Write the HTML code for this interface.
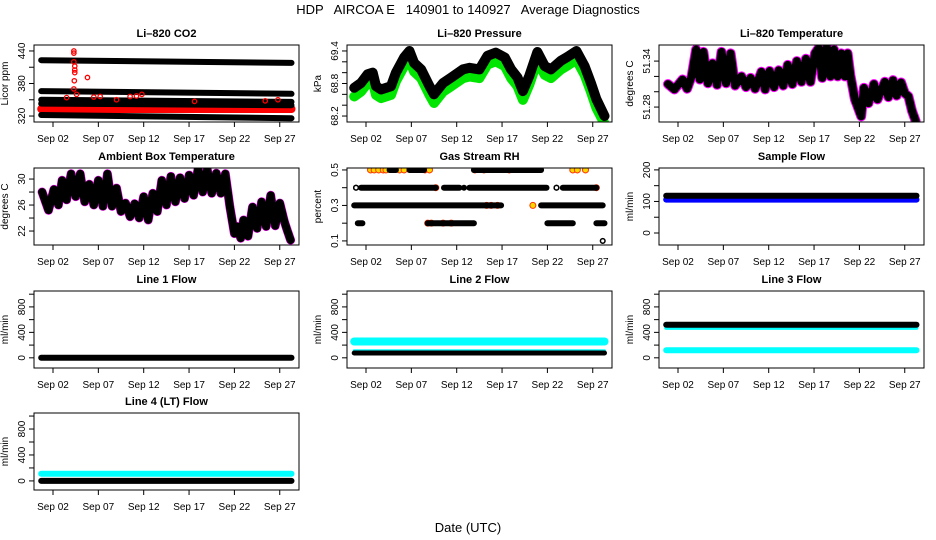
<!DOCTYPE html>
<html><head><meta charset="utf-8">
<style>
html,body{margin:0;padding:0;background:#fff;}
svg{display:block;font-family:"Liberation Sans",Arial,sans-serif;}
</style></head>
<body>
<svg id="chart" width="936" height="540" viewBox="0 0 936 540" xmlns="http://www.w3.org/2000/svg">
<defs id="defs"></defs>
<text x="468" y="14" text-anchor="middle" font-size="13" style="white-space:pre" xml:space="preserve">HDP   AIRCOA E   140901 to 140927   Average Diagnostics</text>
<text x="468" y="532" text-anchor="middle" font-size="13">Date (UTC)</text>
</svg>
<script>
// ---- shared axis data ----
const xTickDays = [2, 7, 12, 17, 22, 27];
const xTickLabels = ["Sep 02", "Sep 07", "Sep 12", "Sep 17", "Sep 22", "Sep 27"];
const dataStart = 0.7, dataEnd = 28.3;

// ---- CO2 ----
const co2BlackStart = [423, 366, 350, 343, 322];
const co2BlackEnd = [418, 361, 346, 340, 316];
const co2RedBand = 333;
const co2RedDays = [4.3,4.3,4.3,4.4,4.4,4.4,4.35,4.3,5.8,4.6,6.5,10.5,11.2,11.8,9,17.6,25.4,26.8,3.5,7.2];
const co2RedVals = [440,436,420,412,405,400,385,370,391,360,355,356,357,360,350,347,348,350,354,356];

// ---- Pressure ----
const pressDays = [0.7,1.45,2.18,2.74,3.1,3.65,4.76,5.3,6.2,6.8,7.3,8.07,9.0,9.5,10.5,11.4,12.7,13.4,14.5,15.4,16.3,17.3,18.0,18.7,19.3,20.0,20.9,21.7,22.4,23.5,24.2,25.2,26.1,26.8,27.4,28.3];
const pressBlack = [68.72,68.81,68.97,69.0,68.75,68.69,68.75,69.0,69.28,69.40,69.18,69.06,68.75,68.60,68.81,68.91,69.06,69.09,69.06,69.31,69.37,69.28,69.06,68.91,68.66,68.94,69.38,69.12,69.06,69.22,69.29,69.40,69.12,68.81,68.51,68.20];
const pressGreen = [68.56,68.65,68.81,68.84,68.59,68.53,68.59,68.84,69.12,69.24,69.02,68.90,68.59,68.44,68.65,68.75,68.90,68.93,68.90,69.15,69.21,69.12,68.90,68.75,68.50,68.78,69.22,68.96,68.90,69.06,69.13,69.24,68.96,68.65,68.35,68.06];

// ---- Li-820 temperature ----
const ltDays = [0.9,1.6,2.5,3.0,3.5,4.0,4.4,4.8,5.3,5.8,6.3,6.8,7.3,7.8,8.3,9.0,9.5,10.0,10.5,11.2,11.6,12.1,12.6,13.1,13.6,14.1,14.6,15.1,15.6,16.1,16.6,17.1,17.5,17.9,18.4,18.8,19.2,19.6,20.0,20.4,20.7,21.0,21.5,22.2,22.5,23.0,23.6,24.0,24.8,25.2,25.7,26.1,26.6,27.0,27.4,27.8,28.2];
const ltVals = [51.310,51.303,51.316,51.304,51.320,51.355,51.316,51.352,51.311,51.337,51.309,51.352,51.311,51.350,51.308,51.320,51.306,51.318,51.304,51.326,51.303,51.327,51.306,51.328,51.308,51.335,51.310,51.340,51.313,51.343,51.313,51.350,51.357,51.318,51.360,51.320,51.355,51.320,51.350,51.320,51.350,51.322,51.290,51.268,51.305,51.285,51.310,51.290,51.313,51.293,51.315,51.295,51.312,51.298,51.294,51.275,51.262];

// ---- Ambient box temperature ----
const ambDays = [0.8,1.5,2.1,2.6,3.0,3.5,4.0,4.5,5.0,5.5,6.0,6.5,7.0,7.5,8.0,8.5,9.0,9.5,10.0,10.5,11.0,11.5,12.0,12.5,13.0,13.5,14.0,14.5,15.0,15.5,16.0,16.5,17.0,17.5,18.0,18.5,19.0,19.5,20.0,20.5,21.0,21.5,22.0,22.3,22.7,23.0,23.5,24.0,24.5,25.0,25.5,26.0,26.5,27.0,27.5,27.8,28.2];
const ambVals = [28.0,25.2,28.4,26.0,29.8,26.8,30.8,27.3,30.8,26.5,29.2,26.0,29.8,25.8,30.8,25.8,28.6,25.0,26.3,24.2,26.2,24.0,27.3,23.7,27.8,25.0,29.8,26.0,30.4,26.5,30.2,27.0,30.6,27.5,31.6,28.0,31.5,27.8,30.9,27.8,30.8,25.7,21.6,22.7,20.9,23.7,21.2,25.7,22.4,26.5,22.7,27.5,22.8,26.3,23.5,22.2,20.6];

// ---- Gas stream RH (segments) ----
const rhLevel = [0.5,0.5,0.5, 0.4,0.4,0.4,0.4,0.4,0.4,0.4, 0.3,0.3, 0.2,0.2,0.2,0.2];
const rhStart = [4.6,6.8,13.9, 0.9,1.45,10.6,12.8,13.4,23.0,23.7, 0.7,21.3, 1.1,8.8,22.0,27.4];
const rhEnd   = [5.3,8.4,21.3, 0.9,9.7,12.3,12.8,21.9,23.0,27.4, 16.9,28.1, 1.6,13.9,24.8,28.3];
const rhFlagDays = [2.5,2.9,3.4,3.9,4.2,5.7,6.2,8.5,9.0,24.8,25.3,26.2,9.7,27.4,15.3,15.8,16.5,20.4,8.8,9.2,10.5,11.4,14.0,15.0,17.8];
const rhFlagLvls = [0.5,0.5,0.5,0.5,0.5,0.5,0.5,0.5,0.5,0.5,0.5,0.5,0.4,0.4,0.3,0.3,0.3,0.3,0.2,0.2,0.2,0.2,0.5,0.5,0.5];
const rhOpenDays = [0.9,23.0,28.1];
const rhOpenLvls = [0.4,0.4,0.1];

// ---- Flows ----
const sampleBlack = 118, sampleBlue = 106;
const line1Black = 0;
const line2Cyan = 256, line2CyanThin = 110, line2Black = 75;
const line3Black = 520, line3CyanThin = 470, line3Cyan = 120;
const line4Cyan = 110, line4Black = 0;

const svg = document.getElementById('chart');
const defs = document.getElementById('defs');
const NS = 'http://www.w3.org/2000/svg';
function mk(tag, attrs, parent){
  const e = document.createElementNS(NS, tag);
  for (const k in attrs) e.setAttribute(k, attrs[k]);
  (parent || svg).appendChild(e);
  return e;
}
const PW = 265, PH = 77;
function panel(name, left, top, ymin, ymax, yTicks, yLabels, ylab, title){
  const g = mk('g', {});
  
  
  const xs = d => left + 19 + (d - 2) * 9.07;
  const ys = v => top + PH * (ymax - v) / (ymax - ymin);
  const cp = mk('clipPath', {id: 'clip-' + name}, defs);
  mk('rect', {x: left, y: top, width: PW, height: PH}, cp);
  const plot = mk('g', {'clip-path': 'url(#clip-' + name + ')'}, g);
  
  
  const t = mk('text', {x: left + PW/2, y: top - 8, 'text-anchor': 'middle', 'font-size': 11, 'font-weight': 'bold'}, g);
  t.textContent = title;
  
  
  const box = mk('rect', {x: left, y: top, width: PW, height: PH, fill: 'none', stroke: '#000', 'stroke-width': 1}, g);
  
  
  const xa = mk('g', {}, g);
  
  
  xTickDays.forEach((d, i) => {
    mk('line', {x1: xs(d), x2: xs(d), y1: top+PH, y2: top+PH+5, stroke: '#000'}, xa);
    const l = mk('text', {x: xs(d), y: top+PH+20, 'text-anchor': 'middle', 'font-size': 10}, xa);
    l.textContent = xTickLabels[i];
    
    
  });
  const ya = mk('g', {}, g);
  
  
  yTicks.forEach(v => mk('line', {x1: left-5, x2: left, y1: ys(v), y2: ys(v), stroke: '#000'}, ya));
  yLabels.forEach(v => {
    const y = ys(v), x = left - 9;
    const l = mk('text', {x: x, y: y, 'text-anchor': 'middle', 'font-size': 10, transform: `rotate(-90 ${x} ${y})`}, ya);
    l.textContent = String(v);
    
    
  });
  const yl = mk('text', {x: left-26, y: top+PH/2, 'text-anchor': 'middle', 'font-size': 10, transform: `rotate(-90 ${left-26} ${top+PH/2})`}, g);
  yl.textContent = ylab;
  
  
  return {xs, ys, plot};
}
function band(p, days, vals, color, w, name){
  const pts = days.map((d, i) => p.xs(d).toFixed(1) + ',' + p.ys(vals[i]).toFixed(1)).join(' ');
  const e = mk('polyline', {points: pts, fill: 'none', stroke: color, 'stroke-width': w, 'stroke-linejoin': 'round', 'stroke-linecap': 'round'}, p.plot);
  
  
}
function flat(p, v, color, w, name){
  band(p, [dataStart, dataEnd], [v, v], color, w, name);
}

const r1 = 45, r2 = 168, r3 = 291, r4 = 413;
const c1 = 34, c2 = 347, c3 = 659;

const pc = panel('co2', c1, r1, 309, 451, [320,350,380,410,440], [320,380,440], 'Licor ppm', 'Li\u2013820 CO2');
band(pc, [dataStart, dataEnd], [co2RedBand, co2RedBand], '#ff0000', 8, 'co2-red-band');
co2BlackStart.forEach((v, i) => band(pc, [dataStart, dataEnd], [v, co2BlackEnd[i]], '#000', 6, 'co2-black-band'));
co2RedDays.forEach((d, i) => {
  const c = mk('circle', {cx: pc.xs(d), cy: pc.ys(co2RedVals[i]), r: 2.2, fill: 'none', stroke: '#ff0000', 'stroke-width': 1.3}, pc.plot);
  
  
});

const pp = panel('pressure', c2, r1, 68.09, 69.51, [68.2,68.4,68.6,68.8,69.0,69.2,69.4], [68.2,68.8,69.4], 'kPa', 'Li\u2013820 Pressure');
band(pp, pressDays, pressGreen, '#00e600', 10, 'pressure-green-series');
band(pp, pressDays, pressBlack, '#000', 10, 'pressure-black-series');

const pt = panel('li820-temp', c3, r1, 51.2605, 51.361, [51.28,51.30,51.32,51.34], [51.28,51.34], 'degrees C', 'Li\u2013820 Temperature');
band(pt, ltDays, ltVals, '#ff00ff', 10, 'li820-temp-magenta-series');
band(pt, ltDays, ltVals, '#000', 8, 'li820-temp-black-series');

const pa = panel('ambient-temp', c1, r2, 19.85, 31.7, [22,24,26,28,30], [22,26,30], 'degrees C', 'Ambient Box Temperature');
band(pa, ambDays, ambVals, '#ff00ff', 9, 'ambient-temp-magenta-series');
band(pa, ambDays, ambVals, '#000', 8, 'ambient-temp-black-series');

const pr = panel('rh', c2, r2, 0.077, 0.511, [0.1,0.2,0.3,0.4,0.5], [0.1,0.3,0.5], 'percent', 'Gas Stream RH');
rhFlagDays.forEach((d, i) => {
  const c = mk('circle', {cx: pr.xs(d), cy: pr.ys(rhFlagLvls[i]), r: 3, fill: '#ffd800', stroke: '#ff3000', 'stroke-width': 1}, pr.plot);
  
  
});
rhLevel.forEach((lv, i) => band(pr, [rhStart[i], rhEnd[i]], [lv, lv], '#000', 6, 'rh-segment'));
rhOpenDays.forEach((d, i) => {
  const c = mk('circle', {cx: pr.xs(d), cy: pr.ys(rhOpenLvls[i]), r: 2.3, fill: '#fff', stroke: '#000', 'stroke-width': 1.5}, pr.plot);
  
  
});

const ps = panel('sample-flow', c3, r2, -38, 206, [0,50,100,150,200], [0,100,200], 'ml/min', 'Sample Flow');
flat(ps, sampleBlue, '#0000ff', 6, 'sample-flow-blue-series');
flat(ps, sampleBlack, '#000', 6, 'sample-flow-black-series');

const flowTicks = [0,200,400,600,800,1000], flowLabels = [0,400,800];
const p1 = panel('line1-flow', c1, r3, -160, 1050, flowTicks, flowLabels, 'ml/min', 'Line 1 Flow');
flat(p1, line1Black, '#000', 6, 'line1-black-series');
const p2 = panel('line2-flow', c2, r3, -160, 1050, flowTicks, flowLabels, 'ml/min', 'Line 2 Flow');
flat(p2, line2Cyan, '#00ffff', 8, 'line2-cyan-series');
flat(p2, line2CyanThin, '#00ffff', 3, 'line2-cyan-thin-series');
flat(p2, line2Black, '#000', 5, 'line2-black-series');
const p3 = panel('line3-flow', c3, r3, -160, 1050, flowTicks, flowLabels, 'ml/min', 'Line 3 Flow');
flat(p3, line3CyanThin, '#00ffff', 4, 'line3-cyan-thin-series');
flat(p3, line3Black, '#000', 6, 'line3-black-series');
flat(p3, line3Cyan, '#00ffff', 6, 'line3-cyan-series');

const p4 = panel('line4-flow', c1, r4, -140, 1047, flowTicks, flowLabels, 'ml/min', 'Line 4 (LT) Flow');
flat(p4, line4Cyan, '#00ffff', 6, 'line4-cyan-series');
flat(p4, line4Black, '#000', 6, 'line4-black-series');
</script>
</body></html>
